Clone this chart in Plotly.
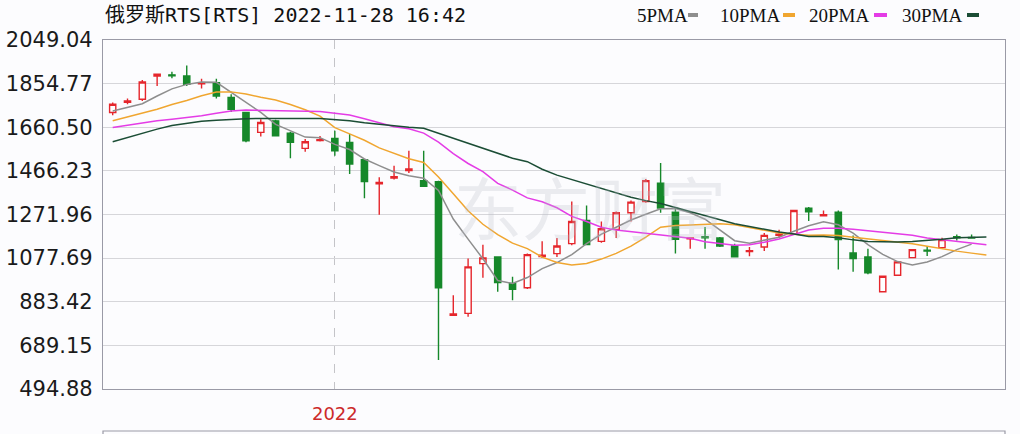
import plotly.graph_objects as go

weeks = [
    "2021-09-20", "2021-09-27", "2021-10-04", "2021-10-11", "2021-10-18", "2021-10-25",
    "2021-11-01", "2021-11-08", "2021-11-15", "2021-11-22", "2021-11-29", "2021-12-06",
    "2021-12-13", "2021-12-20", "2021-12-27", "2022-01-03", "2022-01-10", "2022-01-17",
    "2022-01-24", "2022-01-31", "2022-02-07", "2022-02-14", "2022-02-21", "2022-03-21",
    "2022-03-28", "2022-04-04", "2022-04-11", "2022-04-18", "2022-04-25", "2022-05-02",
    "2022-05-09", "2022-05-16", "2022-05-23", "2022-05-30", "2022-06-06", "2022-06-13",
    "2022-06-20", "2022-06-27", "2022-07-04", "2022-07-11", "2022-07-18", "2022-07-25",
    "2022-08-01", "2022-08-08", "2022-08-15", "2022-08-22", "2022-08-29", "2022-09-05",
    "2022-09-12", "2022-09-19", "2022-09-26", "2022-10-03", "2022-10-10", "2022-10-17",
    "2022-10-24", "2022-10-31", "2022-11-07", "2022-11-14", "2022-11-21", "2022-11-28",
]

open_ = [1726.2, 1771.8, 1785.2, 1888.5, 1893.8, 1888.5, 1853.9, 1859.2, 1792.7, 1726.2,
         1637.5, 1688.9, 1634.4, 1566.5, 1601.1, 1610.9, 1593.2, 1516.0, 1408.2, 1434.8,
         1468.1, 1422.8, 1418.4, 822.8, 831.7, 1053.4, 1083.1, 964.7, 945.6, 1084.5,
         1097.8, 1142.1, 1245.5, 1152.3, 1205.5, 1279.6, 1329.7, 1411.3, 1282.7, 1164.3,
         1173.2, 1167.4, 1131.9, 1106.6, 1127.5, 1179.8, 1186.5, 1299.6, 1266.3, 1281.8,
         1100.9, 1083.1, 927.9, 1001.5, 1080.0, 1113.3, 1124.4, 1173.2, 1169.6, None]
high = [1770.5, 1788.3, 1870.8, 1899.2, 1908.0, 1935.9, 1877.0, 1877.0, 1807.3, 1728.9,
        1696.5, 1693.4, 1640.1, 1607.8, 1621.1, 1644.6, 1630.0, 1519.1, 1437.9, 1489.4,
        1555.9, 1555.9, 1422.8, 912.8, 1075.6, 1137.7, 1085.0, 994.4, 1097.8, 1152.3,
        1167.4, 1329.7, 1312.0, 1241.0, 1285.4, 1334.2, 1430.4, 1501.4, 1300.4, 1168.7,
        1216.2, 1171.8, 1142.1, 1127.5, 1189.6, 1204.2, 1292.9, 1304.9, 1289.8, 1289.8,
        1178.9, 1119.9, 1000.2, 1064.5, 1117.7, 1131.9, 1168.7, 1183.3, 1183.3, None]
low = [1714.2, 1763.0, 1777.6, 1844.2, 1878.3, 1844.2, 1832.6, 1788.3, 1728.9, 1593.2,
       1619.8, 1619.8, 1522.2, 1551.4, 1596.7, 1533.7, 1452.5, 1344.8, 1270.7, 1427.3,
       1457.0, 1394.9, 624.5, 820.6, 817.0, 990.0, 927.9, 890.6, 940.3, 1078.7,
       1083.1, 1134.6, 1134.6, 1146.6, 1167.4, 1241.0, 1324.0, 1279.6, 1097.8, 1119.9,
       1119.9, 1127.5, 1080.9, 1085.8, 1109.7, 1168.7, 1184.2, 1242.8, 1265.0, 1026.8,
       1016.6, 1006.0, 924.8, 1000.2, 1077.8, 1087.6, 1119.9, 1156.7, 1166.5, None]
close = [1763.0, 1777.6, 1861.9, 1897.0, 1889.4, 1851.7, 1858.3, 1799.8, 1740.8, 1600.2,
         1681.8, 1622.4, 1593.2, 1595.8, 1605.5, 1555.9, 1496.9, 1418.4, 1414.9, 1440.6,
         1474.7, 1398.0, 945.6, 829.4, 1038.8, 1078.7, 969.2, 939.4, 1093.3, 1090.2,
         1131.9, 1241.0, 1137.7, 1208.6, 1279.6, 1327.1, 1422.9, 1300.4, 1161.2, 1167.4,
         1168.7, 1131.9, 1083.1, 1111.1, 1178.9, 1184.2, 1289.8, 1284.0, 1270.7, 1159.9,
         1075.6, 1012.2, 997.1, 1061.0, 1115.5, 1108.9, 1159.9, 1168.7, 1167.4, None]

ma5 = [1733.3, 1749.7, 1765.2, 1799.8, 1831.3, 1851.3, 1861.9, 1860.6, 1814.9, 1769.7,
       1726.7, 1673.4, 1646.4, 1616.7, 1614.0, 1584.3, 1561.2, 1519.1, 1489.4, 1461.4,
       1444.1, 1433.5, 1379.4, 1251.7, 1162.1, 1074.7, 978.0, 964.7, 991.3, 1031.2,
       1057.9, 1093.3, 1142.1, 1184.3, 1215.3, 1247.2, 1273.0, 1297.3, 1298.7, 1279.6,
       1250.8, 1201.6, 1155.4, 1144.3, 1157.2, 1171.0, 1197.6, 1222.0, 1239.7, 1226.4,
       1188.7, 1137.7, 1094.7, 1062.3, 1046.8, 1060.1, 1084.5, 1115.5, 1139.9, None]
ma10 = [1689.0, 1705.4, 1724.0, 1740.8, 1761.7, 1779.4, 1800.7, 1817.1, 1818.0, 1808.7,
        1794.1, 1781.7, 1761.7, 1738.6, 1709.8, 1658.8, 1630.9, 1602.5, 1568.8, 1543.5,
        1520.4, 1503.6, 1439.3, 1363.9, 1288.5, 1228.6, 1182.0, 1144.3, 1119.9, 1082.3,
        1057.9, 1046.8, 1053.4, 1073.4, 1098.7, 1131.0, 1170.9, 1215.3, 1223.3, 1225.5,
        1228.6, 1230.8, 1226.4, 1214.4, 1200.7, 1190.0, 1184.3, 1179.8, 1180.7, 1178.5,
        1171.0, 1163.4, 1155.9, 1148.8, 1142.1, 1131.0, 1119.1, 1108.9, 1100.0, 1091.1]
ma20 = [1659.7, 1669.9, 1681.9, 1689.0, 1696.5, 1703.2, 1712.0, 1723.1, 1732.9, 1736.9,
        1736.4, 1733.3, 1733.3, 1733.3, 1731.1, 1723.1, 1715.1, 1698.7, 1679.7, 1663.2,
        1653.5, 1634.4, 1594.5, 1543.5, 1499.1, 1462.8, 1410.4, 1380.7, 1346.1, 1328.4,
        1301.8, 1263.6, 1241.0, 1215.3, 1202.4, 1195.3, 1188.7, 1180.7, 1171.8, 1166.1,
        1151.0, 1142.1, 1134.6, 1137.7, 1148.3, 1163.0, 1182.9, 1203.3, 1210.4, 1210.4,
        1206.4, 1199.8, 1192.7, 1186.5, 1179.4, 1167.0, 1159.0, 1152.3, 1145.7, 1137.7]
ma30 = [1595.8, 1615.3, 1634.4, 1652.1, 1668.6, 1678.8, 1686.8, 1692.1, 1696.5, 1698.7,
        1700.0, 1700.9, 1700.0, 1700.0, 1699.6, 1695.2, 1689.8, 1681.0, 1673.0, 1665.5,
        1660.1, 1656.1, 1634.4, 1610.0, 1590.1, 1569.2, 1547.1, 1522.6, 1507.1, 1473.4,
        1447.3, 1428.2, 1408.2, 1388.3, 1368.3, 1349.2, 1333.7, 1320.9, 1303.1, 1284.9,
        1265.4, 1245.5, 1230.4, 1218.4, 1205.1, 1194.5, 1185.2, 1174.5, 1174.5, 1168.7,
        1159.0, 1151.9, 1151.0, 1149.7, 1151.9, 1156.3, 1162.1, 1168.7, 1171.8, 1171.8]

y_ticks = [2049.04, 1854.77, 1660.50, 1466.23, 1271.96, 1077.69, 883.42, 689.15, 494.88]
year_tick = ["2022-01-03"]
year_label = ["2022"]

title_text = "俄罗斯RTS[RTS] 2022-11-28 16:42"
ma_names = ["5PMA", "10PMA", "20PMA", "30PMA"]
ma_colors = ["#8e8e8e", "#f0a630", "#e43ce6", "#1b4d35"]

RED = "#e5262c"
GREEN = "#16882a"

fig = go.Figure()
fig.add_trace(go.Candlestick(
    x=weeks, open=open_, high=high, low=low, close=close,
    increasing=dict(line=dict(color=RED, width=1.4), fillcolor="white"),
    decreasing=dict(line=dict(color=GREEN, width=1.4), fillcolor=GREEN),
    whiskerwidth=0, showlegend=False, hoverinfo="skip",
))
for name, series, col in zip(ma_names, [ma5, ma10, ma20, ma30], ma_colors):
    fig.add_trace(go.Scatter(x=weeks, y=series, mode="lines", name=name,
                             line=dict(color=col, width=1.5), showlegend=False,
                             hoverinfo="skip"))

W, H = 1020, 434
L, R, T, B = 103, 15, 40, 45
pw, ph = W - L - R, H - T - B

def px_x(p):
    return (p - L) / pw

def px_y(p):
    return (H - B - p) / ph

annotations = [
    dict(text=title_text, x=px_x(103), y=px_y(15), xref="paper", yref="paper",
         xanchor="left", yanchor="middle", showarrow=False,
         font=dict(family="DejaVu Sans Mono, Noto Sans CJK SC", size=20, color="#111111")),
    dict(text="东方财富", x=px_x(590), y=px_y(205), xref="paper", yref="paper",
         xanchor="center", yanchor="middle", showarrow=False,
         font=dict(family="Noto Sans CJK SC", size=68, color="rgba(185,190,200,0.28)")),
]
shapes = []
leg_text_x = [635, 718, 807, 900]
leg_dash = [(688, 698), (783, 795), (874, 887), (967, 979)]
for name, col, tx, (d0, d1) in zip(ma_names, ma_colors, leg_text_x, leg_dash):
    annotations.append(dict(text=name, x=px_x(tx), y=px_y(16), xref="paper", yref="paper",
                            xanchor="left", yanchor="middle", showarrow=False,
                            font=dict(family="Liberation Serif", size=19, color="#111111")))
    shapes.append(dict(type="line", xref="paper", yref="paper",
                       x0=px_x(d0), x1=px_x(d1), y0=px_y(15), y1=px_y(15),
                       line=dict(color=col, width=4)))
# lower panel frame (partially visible)
shapes.append(dict(type="rect", xref="paper", yref="paper",
                   x0=0, x1=1, y0=px_y(480), y1=px_y(431),
                   line=dict(color="#9a9aa6", width=1.2)))

fig.update_layout(
    width=W, height=H,
    margin=dict(l=L, r=R, t=T, b=B),
    paper_bgcolor="#fcfcfe", plot_bgcolor="#fcfcfe",
    annotations=annotations, shapes=shapes,
    boxgap=0.4,
    xaxis=dict(
        type="category", range=[-0.655, 60.256], rangeslider=dict(visible=False),
        tickvals=year_tick, ticktext=year_label, automargin=False,
        tickfont=dict(family="DejaVu Sans", size=18, color="#cc2a2a"),
        showgrid=True, gridcolor="#c4c4c8", griddash="dash", gridwidth=1,
        showline=True, mirror=True, linecolor="#9a9aa6", linewidth=1.2,
        ticks="", ticklabelstandoff=8, zeroline=False, fixedrange=True,
    ),
    yaxis=dict(
        range=[494.88, 2049.04], tickvals=y_ticks, automargin=False,
        ticktext=[f"{v:.2f}" for v in y_ticks],
        tickfont=dict(family="DejaVu Sans", size=21, color="#1a1a1a"),
        showgrid=True, gridcolor="#d6d6da", gridwidth=1,
        showline=True, mirror=True, linecolor="#9a9aa6", linewidth=1.2,
        ticks="", ticklabelstandoff=5, zeroline=False, fixedrange=True,
    ),
)

fig.write_html(
    "out.html",
    config={"displayModeBar": False},
    post_script="document.body.style.margin='0';document.body.style.overflow='hidden';",
)
